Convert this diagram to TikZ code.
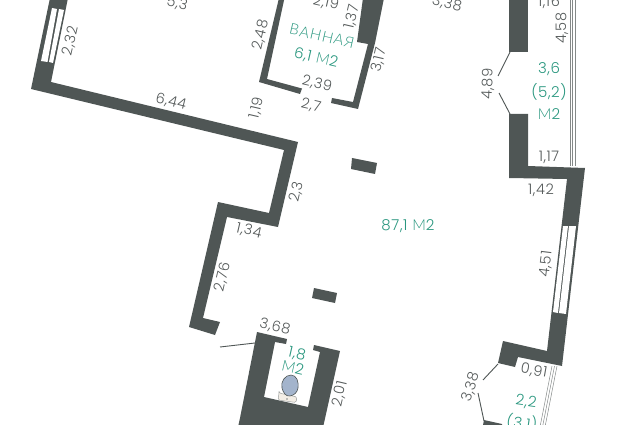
\documentclass[tikz,border=0pt]{standalone}
\usepackage{fontspec}
\setmainfont[LetterSpace=4]{Poppins Light}
\newfontfamily\cyrfont[LetterSpace=6]{Lato Light}
\definecolor{wallgray}{HTML}{4F5655}
\definecolor{dimgray}{HTML}{555A5A}
\definecolor{areagreen}{HTML}{2A977F}
\definecolor{bowlblue}{HTML}{A3B4CC}
\definecolor{tankcream}{HTML}{F3EEE6}
\tikzset{
	wall/.style = {fill = wallgray},
	pane/.style = {fill = white},
	thinline/.style = {draw = wallgray, line width = 0.9pt},
	glass/.style = {draw = wallgray!70, line width = 0.5pt},
	dim/.style = {text = dimgray, font = \fontsize{14.5}{15}\selectfont, inner sep = 0pt},
	area/.style = {text = areagreen, font = \fontsize{15}{15}\selectfont, inner sep = 0pt}
}

\begin{document}
\begin{tikzpicture}[x = 1pt, y = -1pt]
	\clip (0,0) rectangle (632,425);

	\fill [wall] (50,-2) to (68,-2) to (51,82) to (298,142) to (278,227) to (227,217) to (203,318) to (220,322) to (215,335) to (189,327) to (218,202) to (269,213) to (284,150) to (31,89) to cycle;
	\fill [pane] (52,8) to (57,9) to (47.500,62) to (41,61) to cycle;
	\fill [pane] (59,9) to (64,10) to (53,63) to (49,62) to cycle;

	\fill [wall] (279,-2) to (284.500,-2) to (267,79) to (302,88.500) to (300,94) to (259,82) to cycle;
	\fill [wall] (363,-2) to (384,-2) to (375,43) to (358,109) to (331,103) to (332,98) to (353,102) to (368,44) to (357,42) to cycle;

	\fill [wall] (352,158) to (377,163) to (375,174) to (351,169) to cycle;
	\fill [wall] (314,288) to (337,293) to (335,303) to (312,298) to cycle;

	\fill [wall] (257,332) to (287,339) to (286,344) to (275,342) to (264,397) to (308,407) to (320,352) to (313,350) to (314,345) to (340,351) to (322,432) to (238,427) to (240,418) to cycle;
	\draw [thinline] (220,347) to (255,343);
	\fill [tankcream, draw = wallgray!55, line width = 0.5pt, rounded corners = 1.5pt] (279,393) to (297,397) to (296,402.500) to (278,400) to cycle;
	\fill [wallgray!70] (287,399) circle (0.8);
	\fill [bowlblue, draw = wallgray, line width = 0.6pt] (291,375) to [out = 0, in = 80] (298,388) to [out = 260, in = 10] (290,396) to [out = 190, in = 285] (282,388) to [out = 105, in = 180] cycle;

	\fill [wall] (509,-2) to (528,-2) to (528,52) to (509,52) to cycle;
	\fill [wall] (509,114) to (528,114) to (528,166) to (585,168) to (562,366) to (518,357) to (515,367) to (498,363) to (503,341) to (547,351) to (567,179) to (509,178) to cycle;
	\fill [pane] (563,226) to (568,226) to (558,313) to (553,312) to cycle;
	\fill [pane] (569,226) to (576,226) to (566,314) to (559,313) to cycle;
	\fill [wall] (484,420) to (502,424) to (502,430) to (482,430) to cycle;

	\draw [thinline] (510,52) to (498,76);
	\draw [thinline] (499,93) to (510,114);
	\draw [thinline] (498,364) to (483,380);
	\draw [thinline] (478,393) to (484,421);

	\draw [glass] (570,-2) to (570,166);
	\draw [glass] (572.500,-2) to (572.500,166);
	\draw [glass] (575,-2) to (575,166);
	\draw [glass] (552,366) to (540,427);
	\draw [glass] (554.500,366) to (542.500,427);
	\draw [glass] (557,366) to (545,427);

	\node [dim, rotate = -13] (d53) at (177,4) {5,3};
	\node [dim, rotate = 77] (d232) at (71,41) {2,32};
	\node [dim, rotate = -14] (d644) at (171,102) {6,44};
	\node [dim, rotate = 77] (d119) at (257,108) {1,19};
	\node [dim, rotate = 77] (d248) at (261,35) {2,48};
	\node [dim, rotate = 77] (d23) at (297,192) {2,3};
	\node [dim, rotate = -13] (d219) at (326,3) {2,19};
	\node [dim, rotate = 77] (d137) at (352,17) {1,37};
	\node [dim, rotate = -13] (d338a) at (447,4) {3,38};
	\node [dim, rotate = 77] (d317) at (379,60) {3,17};
	\node [dim, rotate = -13] (d239) at (317,84) {2,39};
	\node [dim, rotate = -13] (d27) at (311,106) {2,7};
	\node [dim] (d116) at (549,2) {1,16};
	\node [dim, rotate = 90] (d458) at (562,28) {4,58};
	\node [dim, rotate = 88] (d489) at (488,84) {4,89};
	\node [dim] (d117) at (549,157) {1,17};
	\node [dim] (d142) at (541,190) {1,42};
	\node [dim, rotate = 83] (d451) at (546,264) {4,51};
	\node [dim, rotate = -10] (d091) at (534,371) {0,91};
	\node [dim, rotate = 72] (d338b) at (471,387) {3,38};
	\node [dim, rotate = -13] (d134) at (249,231) {1,34};
	\node [dim, rotate = 77] (d276) at (223,277) {2,76};
	\node [dim, rotate = -13] (d368) at (275,327) {3,68};
	\node [dim, rotate = 77] (d201) at (340,394) {2,01};

	\node [area, rotate = -13] (bath) at (322,36) {\cyrfont ВАННАЯ};
	\node [area, rotate = -13] (batharea) at (316,58) {6,1 {\cyrfont М}2};
	\node [area] (loggia) at (549,69) {3,6};
	\node [area] (loggiafull) at (549,92) {(5,2)};
	\node [area] (loggiaunit) at (549,114) {{\cyrfont М}2};
	\node [area] (mainarea) at (408,226) {87,1 {\cyrfont М}2};
	\node [area, rotate = -8] (balcony) at (526,402) {2,2};
	\node [area, rotate = -8] (balconyfull) at (522,423) {(3,1)};
	\node [area, rotate = -13] (wc) at (297,354) {1,8};
	\node [area, rotate = -13] (wcunit) at (293,368) {{\cyrfont М}2};
\end{tikzpicture}
\end{document}
